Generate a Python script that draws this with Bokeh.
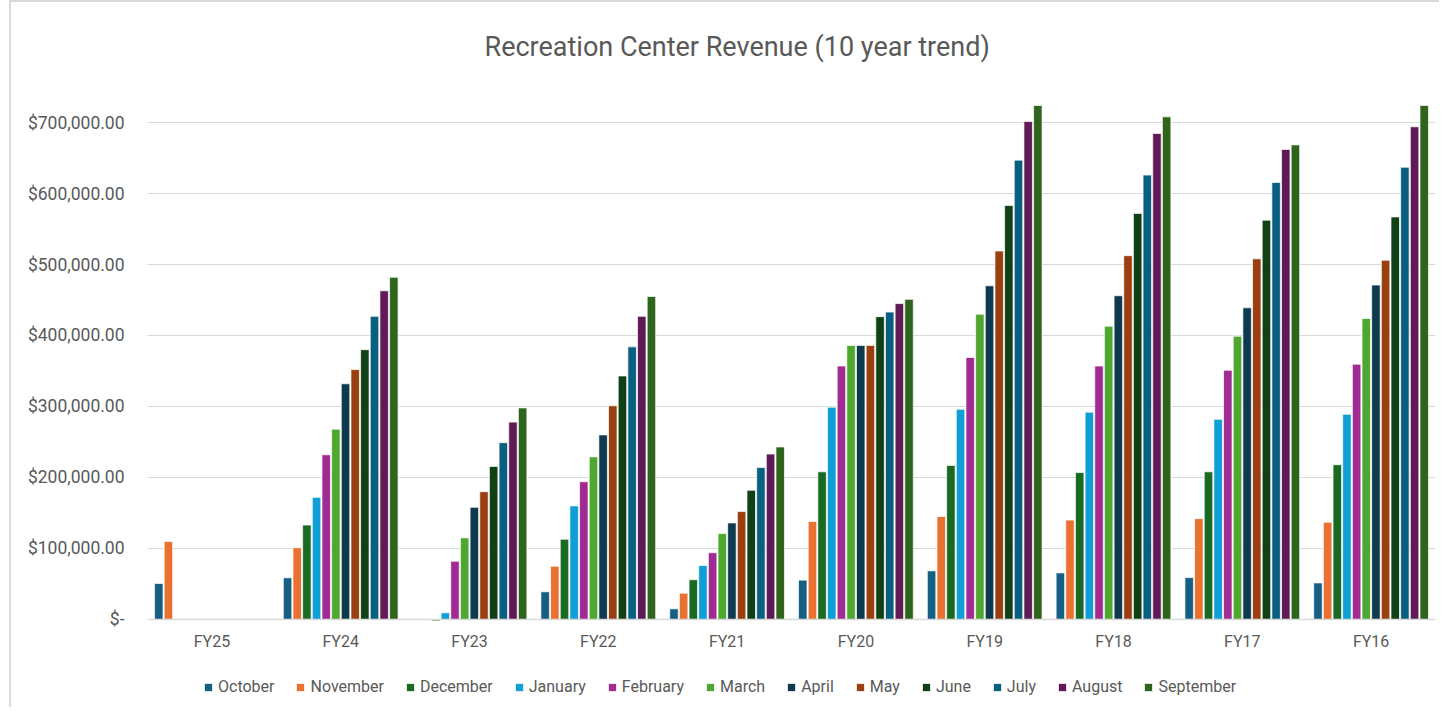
from bokeh.plotting import figure
from bokeh.models import (ColumnDataSource, FactorRange, Range1d, FixedTicker,
                          CustomJSTickFormatter, Legend, Span)
from bokeh.transform import dodge
from bokeh.core.properties import value
from bokeh.embed import file_html
from bokeh.resources import INLINE

nan = float("nan")

fiscal_years = ["FY25", "FY24", "FY23", "FY22", "FY21", "FY20", "FY19", "FY18", "FY17", "FY16"]
months = ["October", "November", "December", "January", "February", "March",
          "April", "May", "June", "July", "August", "September"]
colors = ["#156082", "#E97132", "#196B24", "#0F9ED5", "#A02B93", "#4EA72E",
          "#0D3A4E", "#9A4010", "#0F4016", "#095F80", "#601A58", "#2F641C"]

# revenue per month for each fiscal year (order matches fiscal_years)
october   = [50700, 58700, nan,   39000, 15000, 55400, 68500, 65600, 59000, 51500]
november  = [110000, 101000, nan, 75000, 37000, 138000, 145000, 140000, 142000, 137000]
december  = [nan, 133000, -2000, 113000, 56000, 208000, 217000, 207000, 208000, 218000]
january   = [nan, 172000, 9400, 160000, 76000, 299000, 296000, 292000, 282000, 289000]
february  = [nan, 232000, 82000, 194000, 94000, 357000, 369000, 357000, 351000, 359500]
march     = [nan, 268000, 115000, 229000, 121000, 386000, 430000, 413000, 399000, 424000]
april     = [nan, 332000, 158000, 260000, 136000, 386000, 470000, 456000, 439000, 471000]
may       = [nan, 352000, 180000, 301000, 152000, 386000, 519000, 512500, 508000, 506000]
june      = [nan, 380000, 215500, 343000, 182000, 426500, 583000, 572000, 562500, 567000]
july      = [nan, 427000, 249000, 384000, 214000, 433000, 647000, 626000, 615500, 637000]
august    = [nan, 463000, 278000, 427000, 233000, 445000, 701500, 684500, 662000, 694000]
september = [nan, 482000, 298000, 455000, 243000, 451000, 724000, 708000, 668500, 724000]

y_ticks = [0, 100000, 200000, 300000, 400000, 500000, 600000, 700000]

series = [october, november, december, january, february, march,
          april, may, june, july, august, september]
data = {"fy": fiscal_years}
for m, vals in zip(months, series):
    data[m] = vals
src = ColumnDataSource(data)

FONT = "Roboto"
GREY = "#595959"

# the frame reaches down to the bottom of the figure so that the legend can sit
# inside it, below the category labels
p = figure(x_range=FactorRange(*fiscal_years), y_range=Range1d(-126800, 746500),
           width=1430, height=707, output_backend="svg", toolbar_location=None,
           title="Recreation Center Revenue (10 year trend)",
           min_border_left=136, min_border_right=6, min_border_top=87,
           min_border_bottom=0)
p.styles = {"margin-left": "9px", "margin-top": "0px",
            "border-top": "2px solid #d9d9d9", "border-left": "2px solid #d9d9d9"}

p.title.align = "left"
p.title.offset = 337
p.title.text_font = FONT
p.title.text_font_size = "27px"
p.title.text_font_style = "normal"
p.title.text_color = GREY
p.title.standoff = 53

step = 0.075
width = 0.066
renderers = []
for i, (m, c) in enumerate(zip(months, colors)):
    off = (i - 5.5) * step
    r = p.vbar(x=dodge("fy", off, range=p.x_range), top=m, width=width, source=src,
               fill_color=c, line_color="white", line_width=1, line_alpha=0.7)
    renderers.append((m, [r]))

p.add_layout(Span(location=0, dimension="width", line_color="#d9d9d9", line_width=1.5))

# category labels under the baseline
p.text(x="fy", y=-31000, text="fy", source=src, text_font=value(FONT),
       text_font_size="16px", text_color=GREY, text_align="center",
       text_baseline="middle")

p.outline_line_color = None
p.xaxis.visible = False
p.xgrid.grid_line_color = None
p.ygrid.grid_line_color = "#d9d9d9"
p.ygrid.grid_line_width = 1
p.ygrid.ticker = FixedTicker(ticks=y_ticks)
p.yaxis.ticker = FixedTicker(ticks=y_ticks)
p.yaxis.formatter = CustomJSTickFormatter(code="""
return tick == 0 ? '$-' : '$' + tick.toLocaleString('en-US', {minimumFractionDigits: 2, maximumFractionDigits: 2});
""")
p.yaxis.axis_line_color = None
p.yaxis.major_tick_line_color = None
p.yaxis.minor_tick_line_color = None
p.yaxis.major_tick_out = 0
p.yaxis.major_tick_in = 0
p.yaxis.major_label_text_font = FONT
p.yaxis.major_label_text_font_size = "17.5px"
p.yaxis.major_label_text_color = GREY
p.yaxis.major_label_standoff = 23
p.x_range.range_padding = 0
p.x_range.group_padding = 0

legend = Legend(items=renderers, orientation="horizontal", location=(56, 13),
                label_text_font=FONT, label_text_font_size="16px",
                label_text_color=GREY, glyph_width=10, glyph_height=10,
                label_standoff=5, spacing=21, border_line_color=None,
                background_fill_alpha=0, padding=4, margin=0)
p.add_layout(legend, "center")

open("out.html", "w").write(file_html(p, INLINE))
